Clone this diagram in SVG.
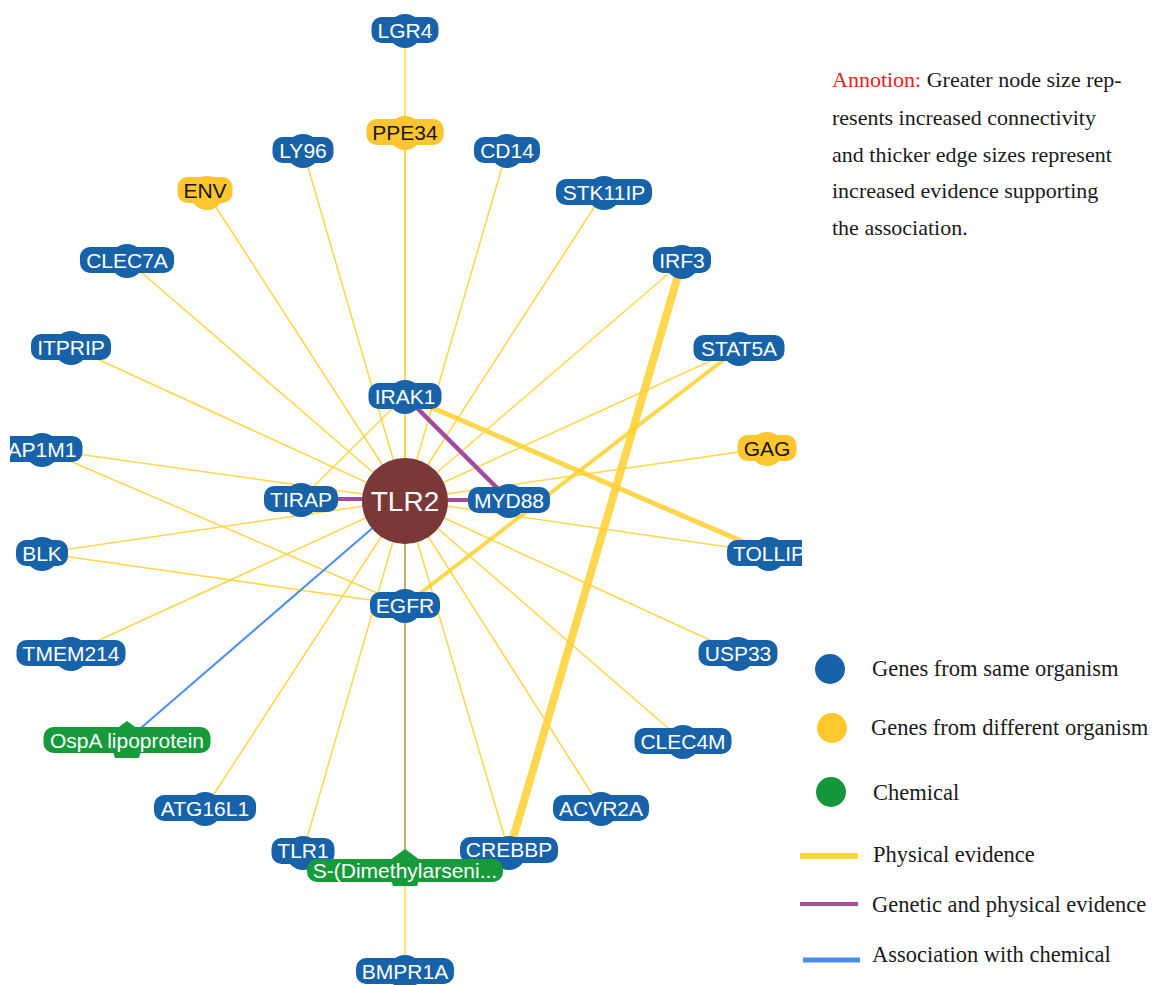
<svg xmlns="http://www.w3.org/2000/svg" width="1158" height="985" viewBox="0 0 1158 985">
<defs>
<clipPath id="netclip"><rect x="10" y="0" width="792" height="985"/></clipPath>
<style>
.e{stroke:#FFD030;stroke-opacity:0.85;fill:none;stroke-linecap:round}
.t{stroke-width:1.6}
.gp{stroke:#A14A9E;fill:none}
.ch{stroke:#4B8EF2;fill:none}
.ol{stroke:#BDB56A;fill:none}
.gene circle,.gene rect{fill:#1762A8}
.foreign circle,.foreign rect{fill:#FDC52E}
.chem polygon,.chem rect{fill:#169A3A}
.lbl{font-family:"Liberation Sans",Arial,sans-serif;font-size:21px;text-anchor:middle}
.gene text,.chem text{fill:#ffffff}
.foreign text{fill:#161616}
.serif{font-family:"Liberation Serif","Times New Roman",serif;font-size:22px;fill:#1a1a1a}
.leg{font-family:"Liberation Serif","Times New Roman",serif;font-size:22.5px;fill:#1a1a1a}
</style>
</defs>
<rect width="1158" height="985" fill="#ffffff"/>
<g clip-path="url(#netclip)">
<g id="connectors">
<line class="e t" x1="405" y1="30" x2="405" y2="500"/>
<line class="e t" x1="405" y1="132" x2="405" y2="500"/>
<line class="e t" x1="303" y1="150" x2="405" y2="500"/>
<line class="e t" x1="507" y1="150" x2="405" y2="500"/>
<line class="e t" x1="205" y1="190" x2="405" y2="500"/>
<line class="e t" x1="604" y1="192" x2="405" y2="500"/>
<line class="e t" x1="127" y1="260" x2="405" y2="500"/>
<line class="e t" x1="682" y1="262" x2="405" y2="500"/>
<line class="e t" x1="71" y1="347" x2="405" y2="500"/>
<line class="e t" x1="739" y1="348" x2="405" y2="500"/>
<line class="e t" x1="42" y1="449" x2="405" y2="500"/>
<line class="e t" x1="42" y1="449" x2="405" y2="605"/>
<line class="e t" x1="767" y1="448" x2="405" y2="500"/>
<line class="e t" x1="42" y1="553" x2="405" y2="500"/>
<line class="e t" x1="42" y1="553" x2="405" y2="605"/>
<line class="e t" x1="769" y1="553" x2="405" y2="500"/>
<line class="e t" x1="71" y1="653" x2="405" y2="500"/>
<line class="e t" x1="738" y1="653" x2="405" y2="500"/>
<line class="e t" x1="683" y1="741" x2="405" y2="500"/>
<line class="e t" x1="205" y1="808" x2="405" y2="500"/>
<line class="e t" x1="601" y1="808" x2="405" y2="500"/>
<line class="e t" x1="303" y1="852" x2="405" y2="500"/>
<line class="e t" x1="509" y1="852" x2="405" y2="500"/>
<line class="e t" x1="405" y1="971" x2="405" y2="500"/>
<line class="e t" x1="405" y1="396" x2="301" y2="499"/>
<line class="ol" stroke-width="2" x1="405" y1="500" x2="405" y2="868"/>
<line class="ch" stroke-width="2" x1="127" y1="740" x2="405" y2="500"/>
<line class="e" stroke-width="5" x1="405" y1="396" x2="769" y2="553"/>
<line class="e" stroke-width="4" x1="739" y1="348" x2="405" y2="605"/>
<line class="e" stroke-width="8" x1="682" y1="262" x2="509" y2="852"/>
<line class="gp" stroke-width="4" x1="301" y1="499" x2="405" y2="499"/>
<line class="gp" stroke-width="4" x1="405" y1="500" x2="509" y2="500"/>
<line class="gp" stroke-width="4.5" x1="405" y1="396" x2="509" y2="500"/>
</g>
<g id="TLR2"><circle cx="405" cy="501" r="43" fill="#7A3838"/><text x="405" y="511" fill="#ffffff" style="font-family:'Liberation Sans',Arial,sans-serif;font-size:28px;text-anchor:middle">TLR2</text></g>
<g id="LGR4" class="gene"><circle cx="405" cy="31" r="17"/><rect x="371.5" y="17" width="67" height="26" rx="10"/><text class="lbl" x="405" y="37.5">LGR4</text></g>
<g id="PPE34" class="foreign"><circle cx="405" cy="133" r="17"/><rect x="366.5" y="119" width="77" height="26" rx="10"/><text class="lbl" x="405" y="139.5">PPE34</text></g>
<g id="LY96" class="gene"><circle cx="303" cy="151" r="17"/><rect x="272.5" y="137" width="61" height="26" rx="10"/><text class="lbl" x="303" y="157.5">LY96</text></g>
<g id="CD14" class="gene"><circle cx="507" cy="151" r="17"/><rect x="474" y="137" width="66" height="26" rx="10"/><text class="lbl" x="507" y="157.5">CD14</text></g>
<g id="ENV" class="foreign"><circle cx="207" cy="193" r="17"/><rect x="177.5" y="177" width="55" height="26" rx="10"/><text class="lbl" x="205" y="197.5">ENV</text></g>
<g id="STK11IP" class="gene"><circle cx="604" cy="193" r="17"/><rect x="556" y="179" width="96" height="26" rx="10"/><text class="lbl" x="604" y="199.5">STK11IP</text></g>
<g id="CLEC7A" class="gene"><circle cx="127" cy="261" r="17"/><rect x="80" y="247" width="94" height="26" rx="10"/><text class="lbl" x="127" y="267.5">CLEC7A</text></g>
<g id="IRF3" class="gene"><circle cx="682" cy="262" r="17"/><rect x="653" y="247" width="58" height="26" rx="10"/><text class="lbl" x="682" y="267.5">IRF3</text></g>
<g id="ITPRIP" class="gene"><circle cx="71" cy="348" r="17"/><rect x="31" y="334" width="80" height="26" rx="10"/><text class="lbl" x="71" y="354.5">ITPRIP</text></g>
<g id="STAT5A" class="gene"><circle cx="739" cy="349" r="17"/><rect x="693.5" y="335" width="91" height="26" rx="10"/><text class="lbl" x="739" y="355.5">STAT5A</text></g>
<g id="IRAK1" class="gene"><circle cx="405" cy="397" r="17"/><rect x="368.5" y="383" width="73" height="26" rx="10"/><text class="lbl" x="405" y="403.5">IRAK1</text></g>
<g id="AP1M1" class="gene"><circle cx="42" cy="450" r="17"/><rect x="1.5" y="436" width="81" height="26" rx="10"/><text class="lbl" x="42" y="456.5">AP1M1</text></g>
<g id="GAG" class="foreign"><circle cx="767" cy="449" r="17"/><rect x="737.5" y="435" width="59" height="26" rx="10"/><text class="lbl" x="767" y="455.5">GAG</text></g>
<g id="TIRAP" class="gene"><circle cx="301" cy="500" r="17"/><rect x="264" y="486" width="74" height="26" rx="10"/><text class="lbl" x="301" y="506.5">TIRAP</text></g>
<g id="MYD88" class="gene"><circle cx="509" cy="501" r="17"/><rect x="468" y="487" width="82" height="26" rx="10"/><text class="lbl" x="509" y="507.5">MYD88</text></g>
<g id="BLK" class="gene"><circle cx="42" cy="554" r="17"/><rect x="16" y="540" width="52" height="26" rx="10"/><text class="lbl" x="42" y="560.5">BLK</text></g>
<g id="TOLLIP" class="gene"><circle cx="769" cy="554" r="17"/><rect x="727" y="540" width="84" height="26" rx="10"/><text class="lbl" x="769" y="560.5">TOLLIP</text></g>
<g id="EGFR" class="gene"><circle cx="405" cy="606" r="17"/><rect x="370" y="592" width="70" height="26" rx="10"/><text class="lbl" x="405" y="612.5">EGFR</text></g>
<g id="TMEM214" class="gene"><circle cx="71" cy="654" r="17"/><rect x="16.5" y="640" width="109" height="26" rx="10"/><text class="lbl" x="71" y="660.5">TMEM214</text></g>
<g id="USP33" class="gene"><circle cx="738" cy="654" r="17"/><rect x="698.5" y="640" width="79" height="26" rx="10"/><text class="lbl" x="738" y="660.5">USP33</text></g>
<g id="OspA" class="chem"><polygon points="127,721 146,735 139,758 115,758 108,735"/><rect x="43.5" y="727" width="167" height="26" rx="10"/><text class="lbl" x="127" y="747.5">OspA lipoprotein</text></g>
<g id="CLEC4M" class="gene"><circle cx="683" cy="742" r="17"/><rect x="634.5" y="728" width="97" height="26" rx="10"/><text class="lbl" x="683" y="748.5">CLEC4M</text></g>
<g id="ATG16L1" class="gene"><circle cx="205" cy="809" r="17"/><rect x="154" y="795" width="102" height="26" rx="10"/><text class="lbl" x="205" y="815.5">ATG16L1</text></g>
<g id="ACVR2A" class="gene"><circle cx="601" cy="809" r="17"/><rect x="553" y="795" width="96" height="26" rx="10"/><text class="lbl" x="601" y="815.5">ACVR2A</text></g>
<g id="TLR1" class="gene"><circle cx="303" cy="853" r="17"/><rect x="271.5" y="838" width="63" height="26" rx="10"/><text class="lbl" x="303" y="858">TLR1</text></g>
<g id="CREBBP" class="gene"><circle cx="509" cy="853" r="17"/><rect x="460" y="837" width="98" height="26" rx="10"/><text class="lbl" x="509" y="857">CREBBP</text></g>
<g id="Dimethylarsenic" class="chem"><polygon points="405,849 424,863 417,886 393,886 386,863"/><rect x="307" y="859" width="196" height="23" rx="10"/><text class="lbl" x="405" y="878">S-(Dimethylarseni...</text></g>
<g id="BMPR1A" class="gene"><circle cx="405" cy="972" r="17"/><rect x="356" y="958" width="98" height="26" rx="10"/><text class="lbl" x="405" y="978.5">BMPR1A</text></g>
</g>
<g id="annotation">
<text class="serif" x="832" y="87"><tspan fill="#E8201C">Annotion:</tspan> Greater node size rep-</text>
<text class="serif" x="832" y="125">resents increased connectivity</text>
<text class="serif" x="832" y="162">and thicker edge sizes represent</text>
<text class="serif" x="832" y="198">increased evidence supporting</text>
<text class="serif" x="832" y="235">the association.</text>
</g>
<g id="legend">
<circle cx="830" cy="669" r="15" fill="#1661A8"/>
<text class="leg" x="872" y="676">Genes from same organism</text>
<circle cx="832" cy="728" r="15" fill="#FFC92E"/>
<text class="leg" x="871" y="735">Genes from different organism</text>
<circle cx="831" cy="792" r="15" fill="#14973B"/>
<text class="leg" x="873" y="800">Chemical</text>
<line x1="800" y1="856" x2="858" y2="856" stroke="#FFD43A" stroke-width="6"/>
<text class="leg" x="873" y="862">Physical evidence</text>
<line x1="800" y1="904" x2="858" y2="904" stroke="#A24F98" stroke-width="4"/>
<text class="leg" x="872" y="912">Genetic and physical evidence</text>
<line x1="803" y1="960" x2="860" y2="960" stroke="#4B8BF2" stroke-width="5"/>
<text class="leg" x="872" y="962">Association with chemical</text>
</g>
</svg>
